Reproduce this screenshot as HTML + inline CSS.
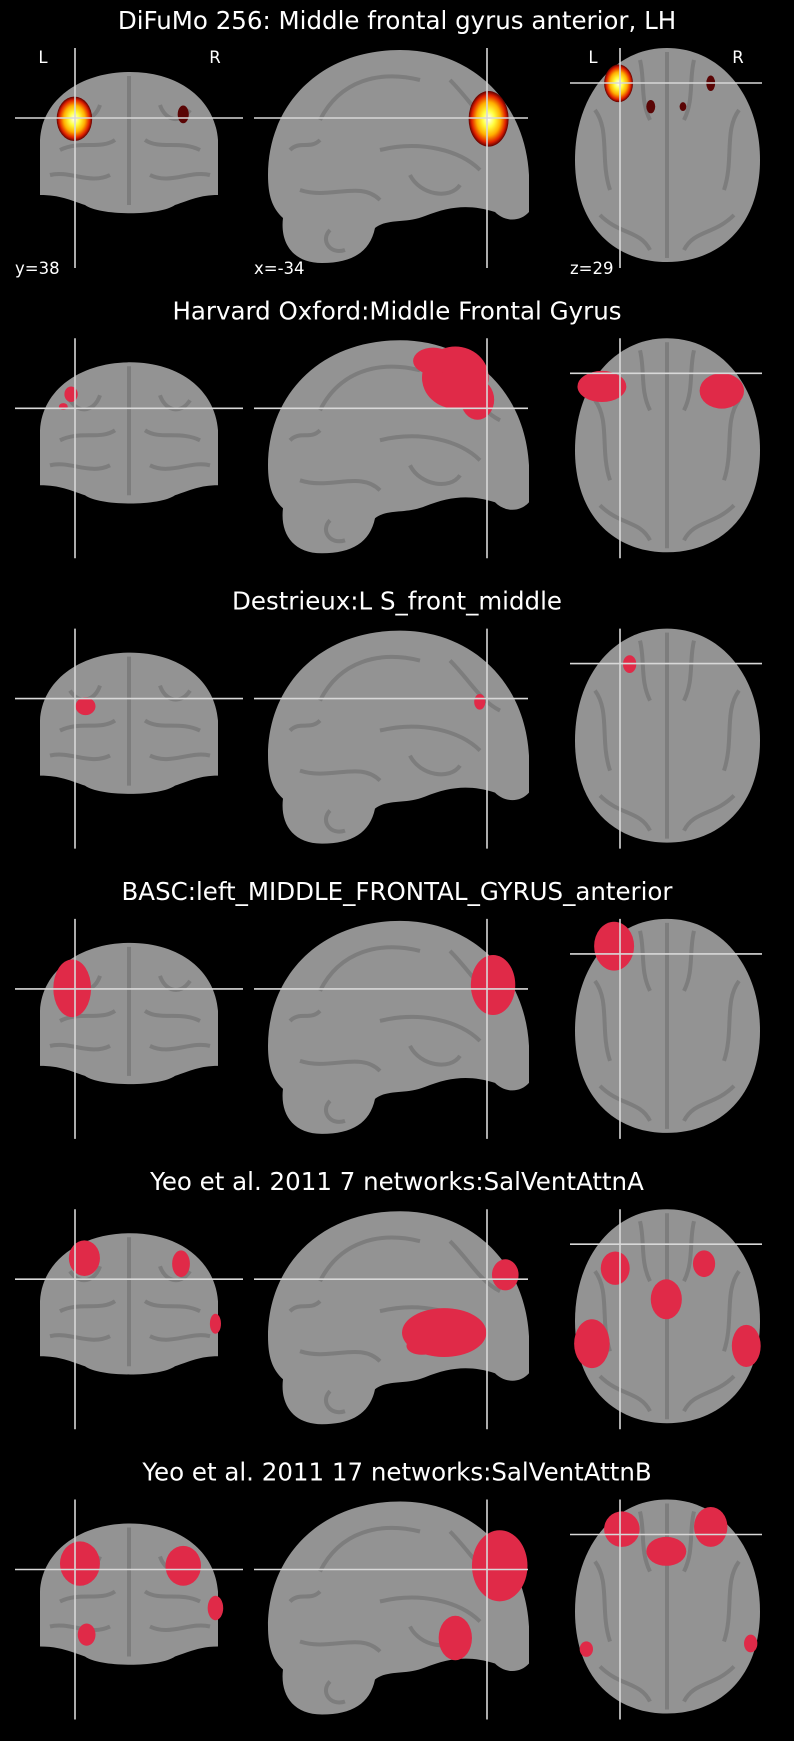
<!DOCTYPE html>
<html><head><meta charset="utf-8">
<style>
html,body{margin:0;padding:0;background:#000;}
svg{display:block;}
text{font-family:"DejaVu Sans","Liberation Sans",sans-serif;fill:#fff;}
</style></head>
<body>
<svg id="fig" width="794" height="1741" viewBox="0 0 794 1741" xmlns="http://www.w3.org/2000/svg">
<defs>
<radialGradient id="hot" cx="50%" cy="50%" r="50%">
<stop offset="0" stop-color="#ffffff"/>
<stop offset="0.3" stop-color="#ffff40"/>
<stop offset="0.6" stop-color="#ffb000"/>
<stop offset="0.85" stop-color="#e02000"/>
<stop offset="1" stop-color="#600000"/>
</radialGradient>
</defs>
<rect width="794" height="1741" fill="#000"/>
</svg>
<script>
const titles = [
 "DiFuMo 256: Middle frontal gyrus anterior, LH",
 "Harvard Oxford:Middle Frontal Gyrus",
 "Destrieux:L S_front_middle",
 "BASC:left_MIDDLE_FRONTAL_GYRUS_anterior",
 "Yeo et al. 2011 7 networks:SalVentAttnA",
 "Yeo et al. 2011 17 networks:SalVentAttnB"
];
// blobs in display coordinates relative to row: [view, cx, cy, rx, ry, kind]
const blobsRow = [
 [["c",67,107,16,20,"hot"],["c",165,103,5,8,"dark"],["s",440,107,18,25,"hot"],["a",557,75,13,17,"hot"],["a",640,75,4,7,"dark"],["a",586,96,4,6,"dark"],["a",615,96,3,4,"dark"]],
 [["c",64,355,6,7,"red"],["c",57,366,4,3,"red"],["s",410,340,30,28,"red"],["s",430,360,15,18,"red"],["s",390,325,18,12,"red"],["a",542,348,22,14,"red"],["a",650,352,20,16,"red"]],
 [["c",77,636,9,8,"red"],["s",432,632,5,7,"red"],["a",567,598,6,8,"red"]],
 [["c",65,890,17,26,"red"],["s",444,887,20,27,"red"],["a",553,852,18,22,"red"]],
 [["c",76,1133,14,16,"red"],["c",163,1138,8,12,"red"],["c",194,1192,5,9,"red"],["s",400,1200,38,22,"red"],["s",380,1212,14,8,"red"],["s",455,1148,12,14,"red"],["a",554,1142,13,15,"red"],["a",634,1138,10,12,"red"],["a",600,1170,14,18,"red"],["a",533,1210,16,22,"red"],["a",672,1212,13,19,"red"]],
 [["c",72,1408,18,20,"red"],["c",165,1410,16,18,"red"],["c",78,1472,8,10,"red"],["c",194,1448,7,11,"red"],["s",450,1410,25,32,"red"],["s",410,1475,15,20,"red"],["a",560,1377,16,16,"red"],["a",640,1375,15,18,"red"],["a",600,1397,18,13,"red"],["a",528,1485,6,7,"red"],["a",676,1480,6,8,"red"]]
];
const xLabels = ["y=38","x=-34","z=29"];

const S = 1.1105, ROW = 290.3;
const NS = "http://www.w3.org/2000/svg";
const svg = document.getElementById('fig');
function mk(tag, attrs, parent){const e=document.createElementNS(NS,tag);for(const k in attrs)e.setAttribute(k,attrs[k]);(parent||svg).appendChild(e);return e;}

const coronalPath = "M130 72 C180 72 215 100 218 140 L218 195 C200 195 190 200 175 205 C160 216 100 216 85 205 C70 200 60 195 40 195 L40 140 C42 100 80 72 130 72 Z";
const sagPath = "M268 175 C268 105 320 50 400 50 C470 50 525 100 529 175 L529 212 C520 222 505 222 495 212 C470 204 450 206 425 216 C405 224 388 218 375 228 C370 252 352 263 322 263 C292 263 280 242 283 218 C272 208 268 195 268 175 Z";
const GRAY = "#939393";

for(let i=0;i<6;i++){
 const oy = ROW*i;
 const g = mk('g',{transform:`translate(0,${oy})`});
 
 
 const t = mk('text',{x:397,y:29,'text-anchor':'middle','font-size':24.5},g);
 t.textContent = titles[i];
 
 
 // coronal
 const c = mk('path',{d:coronalPath,fill:GRAY},g);
 
 
 mk('path',{d:"M129 76 L129 205 M60 150 C80 140 100 150 115 140 M145 140 C160 150 180 140 200 150 M70 110 C80 125 95 120 100 105 M160 105 C165 120 180 125 190 110 M50 175 C70 170 90 185 110 175 M150 175 C170 185 190 170 210 175",stroke:'#6e6e6e',"stroke-width":4,fill:'none',opacity:0.6},g);
 // sagittal
 const s = mk('path',{d:sagPath,fill:GRAY},g);
 
 
 mk('path',{d:"M320 120 C340 80 380 70 420 80 M380 150 C420 140 460 150 480 170 M300 190 C330 200 360 180 380 200 M410 175 C420 195 450 200 460 185 M330 230 C320 240 330 255 345 250 M450 80 C470 100 480 120 500 130 M290 150 C300 140 310 150 320 140",stroke:'#6e6e6e',"stroke-width":4,fill:'none',opacity:0.6},g);
 // axial
 const a = mk('path',{d:"M667 48 C720 48 760 95 760 160 C760 225 720 262 667 262 C614 262 575 225 575 160 C575 95 614 48 667 48 Z",fill:GRAY},g);
 
 
 mk('path',{d:"M667 52 L667 258 M595 110 C610 130 600 160 610 190 M739 110 C724 130 734 160 724 190 M600 215 C620 235 640 230 650 250 M734 215 C714 235 694 230 684 250 M640 60 C645 80 640 100 650 120 M694 60 C689 80 694 100 684 120",stroke:'#6e6e6e',"stroke-width":4,fill:'none',opacity:0.6},g);
 // blobs
 for(const b of blobsRow[i]){
  const fill = b[5]==="hot"?"url(#hot)":(b[5]==="dark"?"#5a0505":"#e02a48");
  const e = mk('ellipse',{cx:b[1]*S,cy:b[2]*S-oy,rx:b[3]*S,ry:b[4]*S,fill:fill},g);
  
  
 }
 // crosshairs
 const ch = mk('g',{stroke:'#d8d8d8','stroke-width':1.6},g);
 
 
 mk('line',{x1:75,y1:48,x2:75,y2:268},ch);
 mk('line',{x1:15,y1:118,x2:243,y2:118},ch);
 mk('line',{x1:487,y1:48,x2:487,y2:268},ch);
 mk('line',{x1:254,y1:118,x2:528,y2:118},ch);
 mk('line',{x1:620,y1:48,x2:620,y2:268},ch);
 mk('line',{x1:570,y1:83,x2:762,y2:83},ch);
 if(i===0){
  [[43,'L'],[215,'R'],[593,'L'],[738,'R']].forEach(p=>{
   const l=mk('text',{x:p[0],y:63,'text-anchor':'middle','font-size':16.5},g);
   l.textContent=p[1];
   
   
  });
  [[15,xLabels[0]],[254,xLabels[1]],[570,xLabels[2]]].forEach(p=>{
   const l=mk('text',{x:p[0],y:274,'font-size':16.5},g);
   l.textContent=p[1];
   
   
  });
 }
}
</script>
</body></html>
